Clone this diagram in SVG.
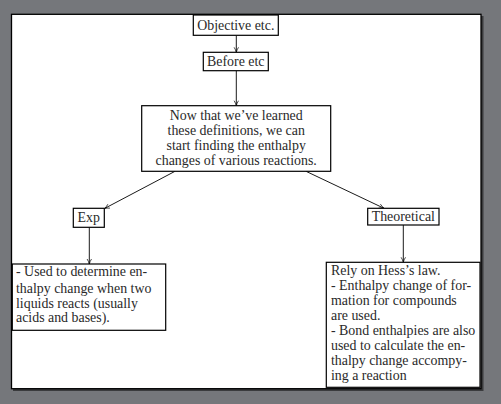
<svg xmlns="http://www.w3.org/2000/svg" width="501" height="404" viewBox="0 0 501 404">
<defs>
<marker id="arr" viewBox="0 0 6 6" refX="5.5" refY="3" markerWidth="6" markerHeight="6" markerUnits="userSpaceOnUse" orient="auto">
<path d="M0.5,0.8 Q3,2.4 5.5,3 Q3,3.6 0.5,5.2" fill="none" stroke="#000" stroke-width="0.7"/>
</marker>
</defs>
<style>
.box{fill:#fff;stroke:#000;stroke-width:1.2}
.t{font-family:"Liberation Serif","DejaVu Serif",serif;font-size:13.9px;fill:#2a2a2a}
.c{text-anchor:middle}
.e{stroke:#000;stroke-width:0.9;fill:none;marker-end:url(#arr)}
</style>
<rect x="0" y="0" width="501" height="404" fill="#75777b"/>
<rect x="13" y="16" width="470.5" height="375" fill="#3a3b3d"/>
<rect x="11.5" y="14.3" width="469.5" height="374.4" fill="#fff" stroke="#000" stroke-width="1.3"/>
<g id="connectors">
<line class="e" x1="236.3" y1="35.3" x2="236.3" y2="52.3"/>
<line class="e" x1="236.3" y1="70.7" x2="236.3" y2="105.7"/>
<line class="e" x1="175" y1="171.3" x2="104.5" y2="208.5"/>
<line class="e" x1="306" y1="171.3" x2="384" y2="208.3"/>
<line class="e" x1="89.3" y1="227.3" x2="89.3" y2="264"/>
<line class="e" x1="403.3" y1="225" x2="403.3" y2="262.3"/>
</g>
<g id="objective">
<rect class="box" x="193.3" y="15" width="85" height="20.3"/>
<text class="t c" x="235.8" y="29.5">Objective etc.</text>
</g>
<g id="before">
<rect class="box" x="203.3" y="52.3" width="65" height="18.4"/>
<text class="t c" x="235.8" y="65.8">Before etc</text>
</g>
<g id="main">
<rect class="box" x="141.7" y="105.7" width="189" height="65.6"/>
<text class="t c" x="236.2" y="119.5">Now that we’ve learned</text>
<text class="t c" x="236.2" y="134.5">these definitions, we can</text>
<text class="t c" x="236.2" y="149.5">start finding the enthalpy</text>
<text class="t c" x="236.2" y="164.5">changes of various reactions.</text>
</g>
<g id="exp">
<rect class="box" x="73.3" y="208.3" width="31" height="19"/>
<text class="t c" x="88.8" y="222">Exp</text>
</g>
<g id="theoretical">
<rect class="box" x="367.7" y="208.3" width="71.3" height="16.7"/>
<text class="t c" x="403.3" y="221">Theoretical</text>
</g>
<g id="exp-detail">
<rect class="box" x="12.3" y="264" width="153.4" height="66.3"/>
<text class="t" x="16" y="276">- Used to determine en-</text>
<text class="t" x="16" y="292.5">thalpy change when two</text>
<text class="t" x="16" y="307.5">liquids reacts (usually</text>
<text class="t" x="16" y="322">acids and bases).</text>
</g>
<g id="theo-detail">
<rect class="box" x="326.3" y="262.3" width="153.7" height="125"/>
<text class="t" x="331" y="274.5">Rely on Hess’s law.</text>
<text class="t" x="331" y="290">- Enthalpy change of for-</text>
<text class="t" x="331" y="305">mation for compounds</text>
<text class="t" x="331" y="320">are used.</text>
<text class="t" x="331" y="335">- Bond enthalpies are also</text>
<text class="t" x="331" y="350">used to calculate the en-</text>
<text class="t" x="331" y="365">thalpy change accompy-</text>
<text class="t" x="331" y="379.5">ing a reaction</text>
</g>
</svg>
